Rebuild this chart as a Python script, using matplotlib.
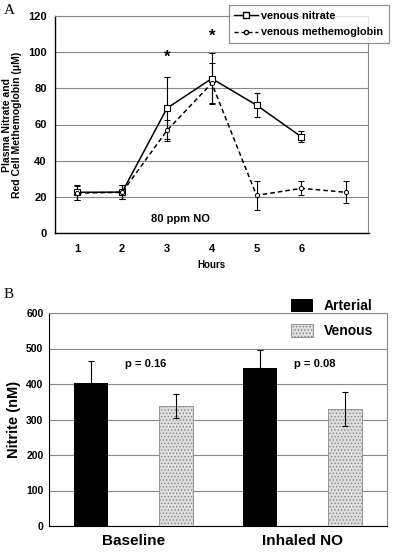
import numpy as np
import matplotlib.pyplot as plt
from matplotlib.lines import Line2D
from matplotlib.patches import Patch

plt.rcParams['font.family'] = ['Liberation Sans', 'DejaVu Sans']
plt.rcParams['font.weight'] = 'bold'
plt.rcParams['axes.labelweight'] = 'bold'
plt.rcParams['hatch.linewidth'] = 0.6

# panel A data
hours = [1, 2, 3, 4, 5, 6, 7]
hour_labels = ['1', '2', '3', '4', '5', '6']
nitrate = [22.5, 22.6, 69, 85.4, 70.7, 53.2]
nitrate_err = [4, 3.8, 17, 14, 6.5, 3]
methb = [22.1, 22.5, 56.7, 82.8, 20.8, 24.7, 22.5]
methb_err = [4, 3.8, 6, 11, 8, 3.8, 6]
star_x = [3, 4]
star_y = [97, 109]

# panel B data
groups = ['Baseline', 'Inhaled NO']
arterial = [404, 444]
arterial_err = [60, 53]
venous = [338, 329]
venous_err = [33, 48]
p_texts = ['p = 0.16', 'p = 0.08']

fig = plt.figure(figsize=(4, 5.52), dpi=100)

# ---- panel A
ax = fig.add_axes([55/400, 1 - 233/552, 313.5/400, 217/552])
ax.errorbar(hours[:6], nitrate, yerr=nitrate_err, color='black', lw=1.1,
            marker='s', ms=4, mfc='white', mec='black', mew=0.8,
            capsize=2, elinewidth=0.8, capthick=0.8, zorder=3)
ax.errorbar(hours, methb, yerr=methb_err, color='black', lw=1.1, ls=(0, (3, 2)),
            marker='o', ms=3, mfc='white', mec='black', mew=0.7,
            capsize=2, elinewidth=0.8, capthick=0.8, zorder=3)
for xs, ys in zip(star_x, star_y):
    ax.text(xs, ys, '*', ha='center', va='center', fontsize=12)
ax.text(3.3, 7.5, '80 ppm NO', ha='center', va='center', fontsize=8)
ax.set_xlim(0.5, 7.5)
ax.set_ylim(0, 120)
ax.set_yticks(range(0, 121, 20))
ax.set_xticks(hours[:6])
ax.set_xticklabels(hour_labels)
ax.tick_params(axis='x', length=0, pad=8, labelsize=8)
ax.tick_params(axis='y', length=0, pad=6, labelsize=8)
ax.grid(axis='y', color='#888888', lw=0.8)
ax.set_axisbelow(True)
ax.spines['top'].set_color('#888888')
ax.spines['right'].set_color('#888888')
ax.spines['left'].set_linewidth(1.0)
ax.spines['bottom'].set_linewidth(1.0)
ax.set_xlabel('Hours', fontsize=7, labelpad=4)
ax.set_ylabel('Plasma Nitrate and\nRed Cell Methemoglobin (\u03bcM)', fontsize=7.5,
              labelpad=4, linespacing=1.0)

handles = [Line2D([], [], color='black', lw=1, marker='s', ms=4, mfc='white'),
           Line2D([], [], color='black', lw=1, ls=(0, (3, 2)), marker='o', ms=3, mfc='white')]
leg = fig.legend(handles, ['venous nitrate', 'venous methemoglobin'],
                 loc='upper right', bbox_to_anchor=(394/400, 1.0), fontsize=7.8,
                 frameon=True, fancybox=False, handlelength=2.2, handletextpad=0.3,
                 borderpad=0.5, labelspacing=0.6)
leg.get_frame().set_edgecolor('#777777')
leg.get_frame().set_linewidth(0.9)

fig.text(4/400, 1 - 10/552, 'A', fontsize=11, family='Liberation Serif',
         weight='normal', va='center')

# ---- panel B
bx = fig.add_axes([49/400, 26/552, 338/400, 213/552])
xpos = np.arange(len(groups))
w = 0.2
bx.bar(xpos - 0.25, arterial, w, color='black', zorder=3)
bx.errorbar(xpos - 0.25, arterial, yerr=[[0, 0], arterial_err], fmt='none',
            ecolor='black', elinewidth=0.8, capsize=2, capthick=0.8, zorder=4)
bx.bar(xpos + 0.25, venous, w, color='#dddddd', edgecolor='#888888', lw=0.6,
       hatch='.....', zorder=3)
bx.errorbar(xpos + 0.25, venous, yerr=venous_err, fmt='none',
            ecolor='black', elinewidth=0.8, capsize=2, capthick=0.8, zorder=4)
for i, t in enumerate(p_texts):
    bx.text(xpos[i] + 0.07, 455, t, ha='center', va='center', fontsize=8)
bx.set_xlim(-0.5, 1.5)
bx.set_ylim(0, 600)
bx.set_yticks(range(0, 601, 100))
bx.set_xticks(xpos)
bx.set_xticklabels(groups, fontsize=11)
bx.tick_params(axis='x', length=0, pad=6)
bx.tick_params(axis='y', length=0, pad=4, labelsize=7.5)
bx.grid(axis='y', color='#888888', lw=0.8)
bx.set_axisbelow(True)
bx.spines['top'].set_color('#888888')
bx.spines['right'].set_color('#888888')
bx.set_ylabel('Nitrite (nM)', fontsize=10.5, labelpad=4)

bhandles = [Patch(facecolor='black'),
            Patch(facecolor='#dddddd', edgecolor='#888888', hatch='.....', lw=0.6)]
fig.legend(bhandles, ['Arterial', 'Venous'], loc='upper right',
           bbox_to_anchor=(386/400, 1 - 286/552), fontsize=10, frameon=False,
           handlelength=1.6, handleheight=1.1, handletextpad=0.8, labelspacing=0.8)

fig.text(4/400, 1 - 294/552, 'B', fontsize=11, family='Liberation Serif',
         weight='normal', va='center')

fig.savefig('out.png', dpi=100)
